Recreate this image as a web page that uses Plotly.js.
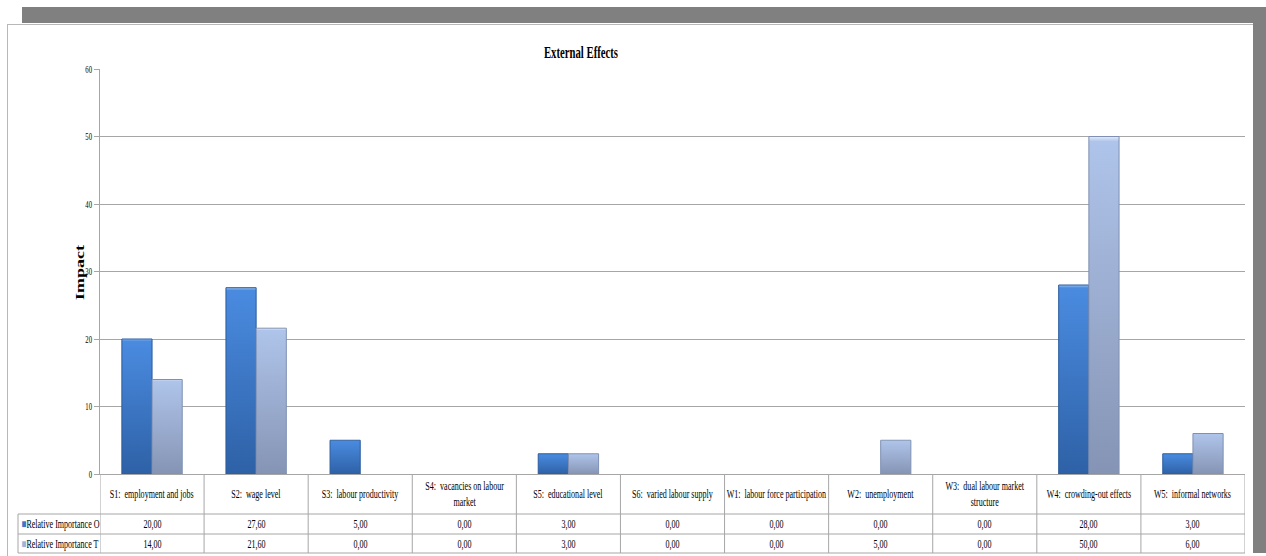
<!DOCTYPE html>
<html>
<head>
<meta charset="utf-8">
<script src="https://cdn.plot.ly/plotly-3.0.1.min.js"></script>
<style>
html,body{margin:0;padding:0;background:#fff;}
#wrap{position:relative;width:1266px;height:556px;overflow:hidden;}
#topbar{position:absolute;left:22px;top:7px;width:1244px;height:16px;background:#808080;}
#rightbar{position:absolute;left:1253px;top:7px;width:13px;height:546px;background:#808080;}
#frame{position:absolute;left:7px;top:24px;width:1245px;height:540px;border-left:1px solid #b8b8b8;border-top:1px solid #b8b8b8;}
#chart{position:absolute;left:0;top:0;width:1266px;height:556px;}
</style>
</head>
<body>
<div id="wrap">
<div id="topbar"></div>
<div id="rightbar"></div>
<div id="frame"></div>
<div id="chart"></div>
</div>
<script>
const categories = ["S1: employment and jobs","S2: wage level","S3: labour productivity","S4: vacancies on labour market","S5: educational level","S6: varied labour supply","W1: labour force participation","W2: unemployment","W3: dual labour market structure","W4: crowding-out effects","W5: informal networks"];
const tickLabels = ["S1:  employment and jobs","S2:  wage level","S3:  labour productivity","S4:  vacancies on labour<br>market","S5:  educational level","S6:  varied labour supply","W1:  labour force participation","W2:  unemployment","W3:  dual labour market<br>structure","W4:  crowding-out effects","W5:  informal networks"];
const seriesNames = ["Relative Importance O","Relative Importance T"];
const valuesO = [20.00, 27.60, 5.00, 0.00, 3.00, 0.00, 0.00, 0.00, 0.00, 28.00, 3.00];
const valuesT = [14.00, 21.60, 0.00, 0.00, 3.00, 0.00, 0.00, 5.00, 0.00, 50.00, 6.00];
const yTicks = [0,10,20,30,40,50,60];

const colO = "#3b78ca", lineO = "#2b5c9e";
const colT = "#9fb3d9", lineT = "#7f90b3";
const serif = "Liberation Serif";
const SX = 0.67; // horizontal squeeze of the reference's text

const fmt = v => v.toFixed(2).replace(".", ",");
const nz = arr => arr.map(v => v === 0 ? null : v);

const traces = [
  {type:"bar", name:seriesNames[0], x:categories, y:nz(valuesO), marker:{color:colO, line:{color:lineO, width:1}}, hoverinfo:"x+y+name"},
  {type:"bar", name:seriesNames[1], x:categories, y:nz(valuesT), marker:{color:colT, line:{color:lineT, width:1}}, hoverinfo:"x+y+name"}
];

const W = 1266, H = 556, ml = 100, mr = 21, mt = 69, mb = 82;
const pw = W - ml - mr, ph = H - mt - mb;
const py = p => (H - mb - p) / ph;
const px = p => (p - ml) / pw;

const lineStyle = {color:"#a6a6a6", width:1};
const shapes = [];
[514, 534, 553].forEach(yy => {
  shapes.push({type:"line", xref:"paper", yref:"paper", x0:px(18), x1:1, y0:py(yy), y1:py(yy), line:lineStyle});
});
shapes.push({type:"line", xref:"paper", yref:"paper", x0:px(18), x1:px(18), y0:py(514), y1:py(553), line:lineStyle});
for (let i = 0; i <= categories.length; i++) {
  shapes.push({type:"line", xref:"x", yref:"paper", x0:i-0.5, x1:i-0.5, y0:0, y1:py(553), line:lineStyle});
}

const annotations = [];
const f = {family:serif, size:12, color:"#000"};
categories.forEach((c, i) => {
  annotations.push({xref:"x", yref:"paper", x:c, y:py(494), text:tickLabels[i], showarrow:false, yanchor:"middle", font:f});
  annotations.push({xref:"x", yref:"paper", x:c, y:py(524), text:fmt(valuesO[i]), showarrow:false, yanchor:"middle", font:f});
  annotations.push({xref:"x", yref:"paper", x:c, y:py(544), text:fmt(valuesT[i]), showarrow:false, yanchor:"middle", font:f});
});
annotations.push({xref:"paper", yref:"paper", x:px(20), y:py(524), xanchor:"left", yanchor:"middle", showarrow:false,
  text:'<span style="color:'+colO+'">■</span>'+seriesNames[0], font:f});
annotations.push({xref:"paper", yref:"paper", x:px(20), y:py(544), xanchor:"left", yanchor:"middle", showarrow:false,
  text:'<span style="color:'+colT+'">■</span>'+seriesNames[1], font:f});
annotations.push({xref:"paper", yref:"paper", x:px(80), y:py(273), textangle:-90, showarrow:false, xanchor:"center", yanchor:"middle",
  text:"<b>Impact</b>", font:{family:serif, size:18, color:"#000"}});

const layout = {
  width:W, height:H,
  margin:{l:ml, r:mr, t:mt, b:mb, pad:0},
  paper_bgcolor:"rgba(0,0,0,0)", plot_bgcolor:"rgba(0,0,0,0)",
  title:{text:"<b>External Effects</b>", x:581/W, xanchor:"center", y:1-52/H, yanchor:"middle", font:{family:serif, size:16, color:"#000"}},
  showlegend:false,
  barmode:"group", bargap:0.42, bargroupgap:0,
  xaxis:{type:"category", showticklabels:false, ticks:"", showgrid:false, zeroline:false, showline:true, linecolor:"#a6a6a6", linewidth:1, range:[-0.5, categories.length-0.5]},
  yaxis:{range:[0,60], tickvals:yTicks, ticks:"outside", ticklen:5, tickcolor:"#a6a6a6", showline:true, linecolor:"#a6a6a6", linewidth:1,
    showgrid:true, gridcolor:"#a6a6a6", gridwidth:1, zeroline:false, tickfont:{family:serif, size:10, color:"#000"}},
  shapes:shapes, annotations:annotations
};

function squeeze(el, pivot) {
  const b = el.getBBox();
  const cx = pivot === "left" ? b.x : pivot === "right" ? b.x + b.width : b.x + b.width / 2;
  const old = el.getAttribute("transform") || "";
  el.setAttribute("transform", "translate(" + cx + ",0) scale(" + SX + ",1) translate(" + (-cx) + ",0) " + old);
}

function addGradient(svg, id, stops) {
  const ns = "http://www.w3.org/2000/svg";
  let defs = svg.querySelector("defs");
  if (!defs) { defs = document.createElementNS(ns, "defs"); svg.insertBefore(defs, svg.firstChild); }
  const g = document.createElementNS(ns, "linearGradient");
  g.setAttribute("id", id); g.setAttribute("x1", "0"); g.setAttribute("y1", "0"); g.setAttribute("x2", "0"); g.setAttribute("y2", "1");
  stops.forEach(([o, c]) => {
    const s = document.createElementNS(ns, "stop");
    s.setAttribute("offset", o); s.setAttribute("stop-color", c);
    g.appendChild(s);
  });
  defs.appendChild(g);
}

Plotly.newPlot("chart", traces, layout, {displayModeBar:false, staticPlot:true}).then(gd => {
  gd.querySelectorAll("g.annotation").forEach((g, i) => {
    const a = annotations[i];
    squeeze(g, a && a.xanchor === "left" ? "left" : "center");
  });
  gd.querySelectorAll("g.g-gtitle").forEach(g => squeeze(g, "center"));
  gd.querySelectorAll("g.ytick text").forEach(t => squeeze(t, "right"));

  const svg = gd.querySelector("svg.main-svg");
  addGradient(svg, "gradO", [["0", "#9cc3f2"], ["0.015", "#4a8be0"], ["1", "#2e61a6"]]);
  addGradient(svg, "gradT", [["0", "#e2ecfa"], ["0.015", "#afc4ea"], ["1", "#8594b4"]]);
  const bars = gd.querySelectorAll("g.trace.bars");
  ["gradO", "gradT"].forEach((id, k) => {
    if (bars[k]) bars[k].querySelectorAll("path").forEach(p => { p.style.fill = "url(#" + id + ")"; });
  });
});
</script>
</body>
</html>
